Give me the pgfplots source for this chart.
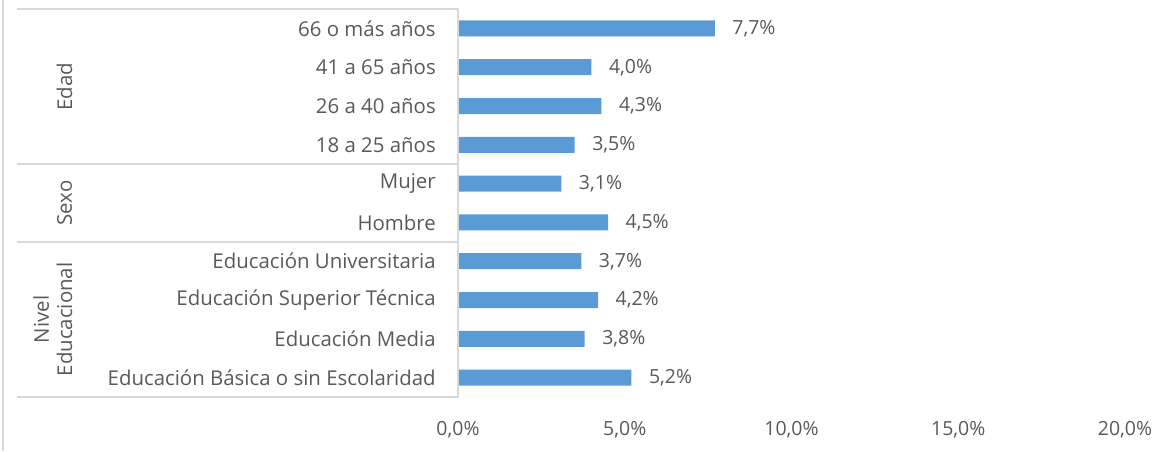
\documentclass[border=0pt]{standalone}
\usepackage{fontspec}
\setmainfont{Open Sans}
\usepackage{pgfplots}
\pgfplotsset{compat=1.18}
\definecolor{barblue}{RGB}{91,155,213}
\definecolor{txt}{RGB}{89,89,89}
\definecolor{gridc}{RGB}{217,217,217}
\newcommand{\lf}{\fontsize{15.3}{17.5}\selectfont}
\newcommand{\nf}{\fontsize{14.6}{17}\selectfont}
\begin{document}
\begin{tikzpicture}
\useasboundingbox (0pt,0pt) rectangle (876.75pt,338.25pt);
\draw[gridc, line width=1.1pt] (2.25pt,0pt) -- (2.25pt,338.25pt);
\begin{axis}[
  at={(343.5pt,40.5pt)}, anchor=south west, scale only axis,
  width=500.25pt, height=291pt,
  xmin=0, xmax=20, ymin=-0.5, ymax=9.5, y dir=reverse,
  clip=false,
  xbar, bar width=12pt,
  /pgf/number format/assume math mode=true,
  axis line style={draw=none}, major tick length=0pt,
  xtick={0,5,10,15,20},
  xticklabels={{0,0\%},{5,0\%},{10,0\%},{15,0\%},{20,0\%}},
  ytick={0,1,2,3,4,5,6,7,8,9},
  yticklabels={66 o más años,41 a 65 años,26 a 40 años,18 a 25 años,Mujer,Hombre,Educación Universitaria,Educación Superior Técnica,Educación Media,Educación Básica o sin Escolaridad},
  xticklabel style={font=\nf, text=txt, anchor=center, inner sep=0pt, yshift=-24.75pt},
  yticklabel style={font=\lf, text=txt, anchor=east, inner sep=0pt, xshift=-16.5pt},
  nodes near coords={\pgfmathprintnumber[fixed,zerofill,precision=1,use comma]{\pgfplotspointmeta}\%},
  every node near coord/.append style={font=\nf, text=txt, anchor=west, inner sep=0pt, xshift=13pt},
]
\addplot[fill=barblue, draw=none] coordinates {
  (7.7,0) (4.0,1) (4.3,2) (3.5,3) (3.1,4) (4.5,5) (3.7,6) (4.2,7) (3.8,8) (5.2,9)
};
\draw[gridc, line width=1.1pt] (axis cs:-13.22,-0.5) -- (axis cs:0,-0.5) -- (axis cs:0,9.5) -- (axis cs:-13.22,9.5);
\draw[gridc, line width=1.1pt] (axis cs:-13.22,3.5) -- (axis cs:0,3.5);
\draw[gridc, line width=1.1pt] (axis cs:-13.22,5.5) -- (axis cs:0,5.5);
\node[font=\lf, text=txt, rotate=90, inner sep=0pt] at (axis cs:-11.8,1.5) {Edad};
\node[font=\lf, text=txt, rotate=90, inner sep=0pt] at (axis cs:-11.8,4.5) {Sexo};
\node[font=\lf, text=txt, rotate=90, inner sep=0pt, align=center] at (axis cs:-12.15,7.5) {Nivel\\Educacional};
\end{axis}
\end{tikzpicture}
\end{document}
